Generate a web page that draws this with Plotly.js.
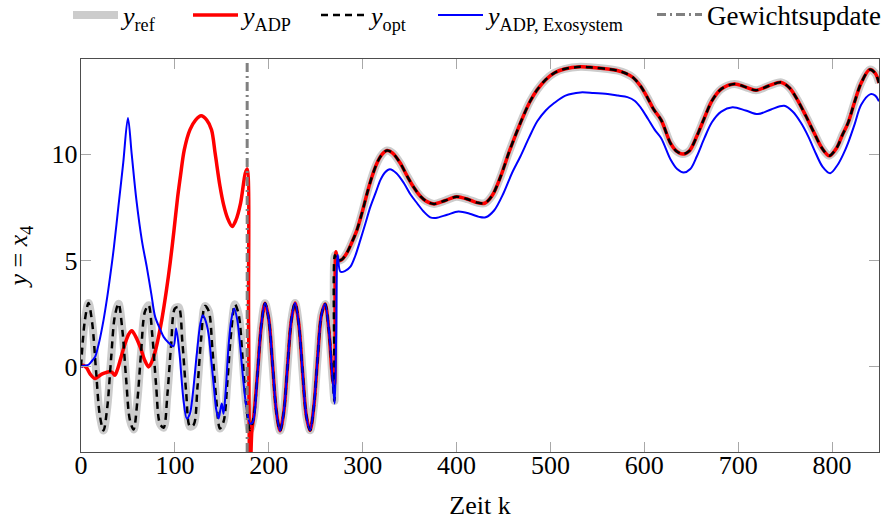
<!DOCTYPE html>
<html><head><meta charset="utf-8">
<script src="https://cdn.plot.ly/plotly-3.0.1.min.js"></script>
<style>html,body{margin:0;padding:0;background:#fff}#chart{width:890px;height:522px}</style>
</head><body><div id="chart"></div>
<script>
// ---------- data ----------
// y_ref (reference signal)
const refK = [0,4,8,12,16,20,24,28,32,36,40,44,48,52,56,60,64,68,72,76,80,84,88,92,96,100,104,108,112,116,120,124,128,132,136,140,144,148,152,156,160,164,168,172,176,180,184,188,192,196,200,204,208,212,216,220,224,228,232,236,240,244,248,252,256,260,264,268,
  270,270.5,273,278,283,288,294,300,305,310,315,320,326,332,340,347,354,362,368,376,388,400,412,422,430,438,447,456,468,478,486,495,504,515,532,545,561,572,580,588,596,604,610,618,628,634,641,648,656,664,672,682,696,708,719,732,746,755,763,772,781,789,797,805,811,817,824,831,840,846,850];
const refY = [0,2.15,3.0,2.03,-0.17,-2.27,-2.99,-1.89,0.35,2.38,2.97,1.76,-0.52,-2.48,-2.94,-1.61,0.69,2.58,2.9,1.46,-0.86,-2.66,-2.86,-1.31,1.03,2.74,2.81,1.15,-1.19,-2.8,-2.72,-0.99,1.34,2.86,2.63,0.81,-1.5,-2.9,-2.55,-0.64,1.65,2.94,2.45,0.47,-1.79,-2.97,-2.35,-0.3,1.93,2.99,2.24,0.13,-2.06,-3.0,-2.12,0.05,2.18,3.0,2.0,-0.23,-2.3,-2.98,-1.87,0.4,2.42,2.96,1.73,-0.58,
  -1.6,5.25,5.0,5.05,5.34,5.8,6.44,7.35,8.2,8.95,9.55,9.95,10.17,10.05,9.58,9.0,8.47,8.0,7.78,7.66,7.82,8.0,7.88,7.72,7.69,8.05,8.95,10.1,11.46,12.45,13.03,13.5,13.81,14.0,14.1,14.07,14.0,13.92,13.8,13.6,13.2,12.6,12.1,11.6,10.5,10.15,10.0,10.15,10.85,11.7,12.5,13.06,13.3,13.15,13.0,13.2,13.37,13.1,12.56,11.8,10.99,10.3,9.92,10.3,10.9,11.46,12.45,13.34,13.97,13.8,13.34];

// y_opt (coincides with y_ref within reading precision)
const optK = refK;
const optY = refY;

// y_ADP
const adpK = [0,2,6,10,15,20,24,30,33,36,39,42,47,51,54,58,63,68,72,76,80,86,91,95,99,103,106,110,116,122,128,134,139,143,148,152,156,161,165,170,175,177,178.5,180,182,
  184,188,192,196,200,204,208,212,216,220,224,228,232,236,240,244,248,252,256,260,264,268,269.8,271.5,273.5,
  278,283,288,294,300,305,310,315,320,326,332,340,347,354,362,368,376,388,400,412,422,430,438,447,456,468,478,486,495,504,515,532,545,561,572,580,588,596,604,610,618,628,634,641,648,656,664,672,682,696,708,719,732,746,755,763,772,781,789,797,805,811,817,824,831,840,846,850];
const adpY = [0,0.08,-0.05,-0.35,-0.55,-0.4,-0.31,-0.23,-0.25,-0.39,-0.1,0.35,1.1,1.55,1.7,1.45,0.94,0.3,0.0,0.3,0.9,2.2,3.6,4.9,6.4,8.0,9.0,10.2,11.14,11.6,11.8,11.6,11.14,10.0,8.5,7.6,7.0,6.6,6.9,7.7,9.1,9.3,2.0,-5.5,-3.0,
  -2.35,-0.3,1.93,2.99,2.24,0.13,-2.06,-3.0,-2.12,0.05,2.18,3.0,2.0,-0.23,-2.3,-2.98,-1.87,0.4,2.42,2.96,1.73,-0.58,-0.9,5.41,5.0,
  5.05,5.34,5.8,6.44,7.35,8.2,8.95,9.55,9.95,10.17,10.05,9.58,9.0,8.47,8.0,7.78,7.66,7.82,8.0,7.88,7.72,7.69,8.05,8.95,10.1,11.46,12.45,13.03,13.5,13.81,14.0,14.1,14.07,14.0,13.92,13.8,13.6,13.2,12.6,12.1,11.6,10.5,10.15,10.0,10.15,10.85,11.7,12.5,13.06,13.3,13.15,13.0,13.2,13.37,13.1,12.56,11.8,10.99,10.3,9.92,10.3,10.9,11.46,12.45,13.34,13.97,13.8,13.34];

// y_ADP, Exosystem
const exoK = [0,3,8,12,15,19,24,28,31,35,40,45,50,54,59,65,70,75,79,84,88,93,98.5,101.3,104.9,107,109.2,112.7,116,119,123.4,127,129.8,132.5,135.8,139,141.9,144,146.5,148.5,150,151.8,154,157.1,160,163.2,166.5,169.6,173,176.7,180.3,183,
  188,192,196,200,204,208,212,216,220,224,228,232,236,240,244,248,252,256,260,264,268,270.2,271.8,273.4,276.3,
  281,287,292,297.6,303,308.3,314,319,324,329,336,344,351,358,365,372,378,390,402,414,424,431,440,450,459,468,477,486,495,504,516,532,546,561,572,582,590,596,604,611,618,628,635,642,649,656,664,672,682,694,708,721,735,749,758,767,775,781,790,798,806,812,817,824,831,841,846,850];
const exoY = [0,0.05,0.1,0.3,0.47,1.1,2.2,3.3,4.24,5.6,7.6,9.6,11.7,10.0,7.85,5.9,4.71,3.4,2.35,1.8,1.41,1.15,0.97,1.8,0.63,-0.5,-1.57,-2.43,-2.2,-1.3,0.63,2.0,2.43,2.2,1.57,0.2,-1.1,-2.0,-2.43,-2.0,-1.72,-2.2,-1.2,0.94,2.2,2.75,2.2,0.94,-0.7,-2.04,-2.67,-2.6,
  -0.3,1.93,2.99,2.24,0.13,-2.06,-3.0,-2.12,0.05,2.18,3.0,2.0,-0.23,-2.3,-2.98,-1.87,0.4,2.42,2.96,1.73,-0.58,-1.72,1.5,5.26,4.47,
  4.5,4.71,5.2,5.97,6.75,7.53,8.2,8.79,9.15,9.29,9.1,8.63,8.1,7.69,7.3,7.03,7.0,7.15,7.3,7.2,7.05,7.03,7.35,8.16,9.1,9.89,10.75,11.54,12.05,12.4,12.75,12.9,12.87,12.82,12.75,12.68,12.5,12.2,11.65,11.15,10.75,9.75,9.3,9.14,9.3,9.9,10.75,11.5,12.0,12.2,12.05,11.88,12.1,12.27,12.0,11.46,10.8,10.2,9.4,9.1,9.5,10.0,10.52,11.4,12.32,12.82,12.75,12.48];

// weight update instant
const updateK = 177;

// axes
const xRange = [0, 850];
const yRange = [-4.0, 14.47];
const xTicks = [0,100,200,300,400,500,600,700,800];
const yTicks = [0,5,10];

const names = ['<i>y</i><sub>ref</sub>', '<i>y</i><sub>ADP</sub>', '<i>y</i><sub>opt</sub>', '<i>y</i><sub>ADP, Exosystem</sub>', 'Gewichtsupdate'];

// ---------- chart ----------
const FONT = 'Liberation Serif, serif';
const traces = [
  {x: refK, y: refY, name: names[0], mode: 'lines', line: {color: '#cccccc', width: 8, shape: 'spline', smoothing: 0.9}, legend: 'legend'},
  {x: adpK, y: adpY, name: names[1], mode: 'lines', line: {color: '#ff0000', width: 3.5, shape: 'spline', smoothing: 0.9}, legend: 'legend2'},
  {x: optK, y: optY, name: names[2], mode: 'lines', line: {color: '#000000', width: 2.5, dash: '7px,5px', shape: 'spline', smoothing: 0.9}, legend: 'legend3'},
  {x: exoK, y: exoY, name: names[3], mode: 'lines', line: {color: '#0000ff', width: 2, shape: 'spline', smoothing: 0.9}, legend: 'legend4'},
  {x: [updateK, updateK], y: yRange, name: names[4], mode: 'lines', line: {color: '#808080', width: 3, dash: '9px,4px,2px,4px'}, legend: 'legend5'}
];

function leg(xpx, fs) {
  return {orientation: 'h', xref: 'container', yref: 'container', x: xpx / 890, y: 1 - 15 / 522,
          xanchor: 'left', yanchor: 'middle', bgcolor: 'rgba(0,0,0,0)', borderwidth: 0,
          itemwidth: 45, font: {family: FONT, size: fs || 26, color: '#000'}};
}

const axisCommon = {
  ticks: 'inside', ticklen: 10, tickwidth: 1, tickcolor: '#a8a8a8',
  showline: true, linecolor: '#4d4d4d', linewidth: 1.3, mirror: 'allticks',
  showgrid: false, zeroline: false,
  tickfont: {family: FONT, size: 26, color: '#000'}
};

const layout = {
  width: 890, height: 522,
  margin: {l: 81, r: 11, t: 59, b: 70},
  paper_bgcolor: '#ffffff', plot_bgcolor: '#ffffff',
  font: {family: FONT, size: 26, color: '#000'},
  showlegend: true,
  xaxis: Object.assign({}, axisCommon, {range: xRange, tickvals: xTicks, ticklabelstandoff: -11,
    title: {text: 'Zeit k', font: {family: FONT, size: 26}, standoff: 17}}),
  yaxis: Object.assign({}, axisCommon, {range: yRange, tickvals: yTicks, ticklabelstandoff: -3,
    title: {text: '<i>y</i> = <i>x</i><sub>4</sub>', font: {family: FONT, size: 26}, standoff: 16}}),
  legend: leg(68), legend2: leg(188), legend3: leg(316), legend4: leg(433), legend5: leg(652, 27)
};

Plotly.newPlot('chart', traces, layout, {displayModeBar: false, staticPlot: true});
</script></body></html>
